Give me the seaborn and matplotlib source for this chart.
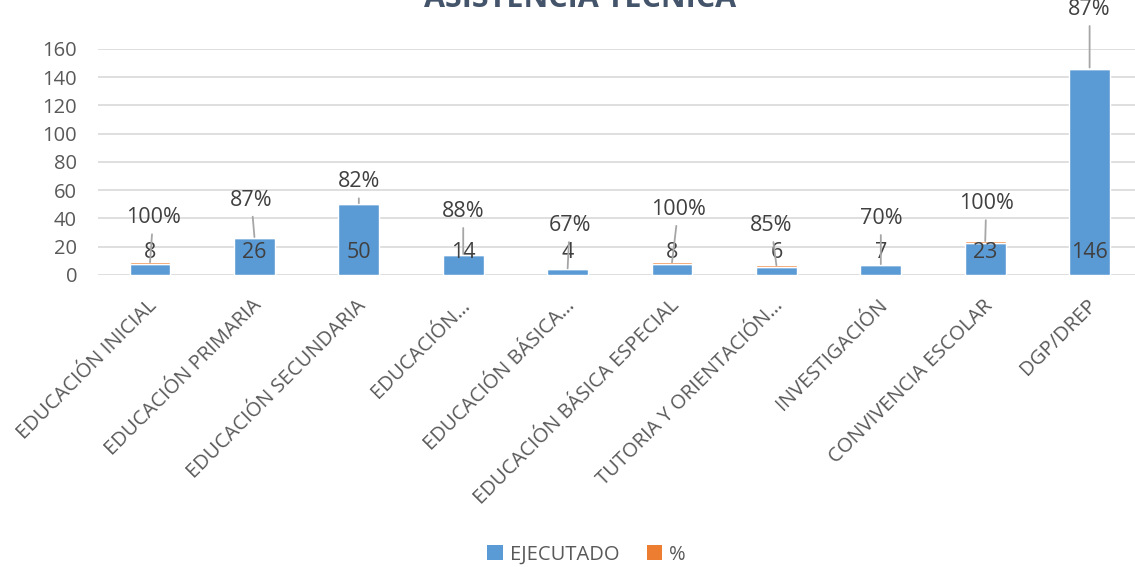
import matplotlib
matplotlib.use("Agg")
import matplotlib.pyplot as plt
import matplotlib.transforms as mtransforms
from matplotlib.patches import Patch
import seaborn as sns
import pandas as pd

# Data
categorias = [
    "EDUCACIÓN INICIAL", "EDUCACIÓN PRIMARIA", "EDUCACIÓN SECUNDARIA",
    "EDUCACIÓN…", "EDUCACIÓN BÁSICA…", "EDUCACIÓN BÁSICA ESPECIAL",
    "TUTORIA Y ORIENTACIÓN…", "INVESTIGACIÓN", "CONVIVENCIA ESCOLAR", "DGP/DREP",
]
ejecutado = [8, 26, 50, 14, 4, 8, 6, 7, 23, 146]
porcentaje = [1.00, 0.87, 0.82, 0.88, 0.67, 1.00, 0.85, 0.70, 1.00, 0.87]

# Placement of the percentage labels (data units), with leader lines to the bars
pct_label_dx = [0.03, -0.03, 0.0, 0.0, 0.02, 0.06, -0.05, 0.0, 0.01, 0.0]
pct_label_y = [40.5, 53, 66, 45, 35, 46.5, 35, 40, 50.5, 188]

BLUE = "#5B9BD5"
ORANGE = "#ED7D31"
TEXT = "#595959"
GRID = "#D9D9D9"

sns.set_theme(style="white")
plt.rcParams["font.family"] = ["Open Sans", "DejaVu Sans"]

df = pd.DataFrame({"cat": categorias, "ejecutado": ejecutado, "pct": porcentaje})

fig = plt.figure(figsize=(11.35, 5.67), dpi=100)
ax = fig.add_axes([0.0862, 0.515, 0.9198, 0.3986])

sns.barplot(data=df, x="cat", y="ejecutado", color=BLUE, width=0.39,
            saturation=1, ax=ax, zorder=2)
sns.barplot(data=df, x="cat", y="pct", color=ORANGE, width=0.39,
            saturation=1, ax=ax, bottom=df["ejecutado"], zorder=2)

ax.set_ylim(0, 160)
ax.set_xlim(-0.5, len(categorias) - 0.5)
ax.set_yticks(range(0, 161, 20))
ax.yaxis.grid(True, color=GRID, linewidth=1.2, zorder=0)
ax.set_axisbelow(True)
for s in ax.spines.values():
    s.set_visible(False)
ax.set_xlabel("")
ax.set_ylabel("")
ax.tick_params(axis="y", length=0, pad=15, labelsize=14.5, labelcolor=TEXT)
ax.tick_params(axis="x", length=0, pad=20, labelsize=14.5, labelcolor=TEXT)
ax.set_xticks(range(len(categorias)))
ax.set_xticklabels(categorias, rotation=45, ha="right", va="center",
                   rotation_mode="anchor")
shift = mtransforms.ScaledTranslation(3 / 72, 0, fig.dpi_scale_trans)
for lbl in ax.get_xticklabels():
    lbl.set_transform(lbl.get_transform() + shift)

# Value labels at the inside base of the bars
for i, v in enumerate(ejecutado):
    ax.annotate(f"{v}", xy=(i, 0), xytext=(0, 12), textcoords="offset points",
                ha="center", va="baseline", fontsize=15.5, color="#404040", zorder=4)

# Percentage labels above the bars, with leader lines
for i, (v, p) in enumerate(zip(ejecutado, porcentaje)):
    top = v + p
    ly = pct_label_y[i]
    lx = i + pct_label_dx[i]
    arrow = None
    if ly - top > 14:
        arrow = dict(arrowstyle="-", color="#A6A6A6", linewidth=1.3,
                     shrinkA=2, shrinkB=0)
    ax.annotate(f"{p:.0%}", xy=(i, top), xytext=(lx, ly), textcoords="data",
                ha="center", va="center", fontsize=15.5, color="#404040",
                arrowprops=arrow, annotation_clip=False, zorder=4)

fig.text(0.511, 0.988, "ASISTENCIA TÉCNICA", ha="center", va="baseline",
         fontsize=22, fontweight="bold", color="#44546A")

handles = [Patch(facecolor=BLUE, edgecolor="none", label="EJECUTADO"),
           Patch(facecolor=ORANGE, edgecolor="none", label="%")]
fig.legend(handles=handles, loc="center", bbox_to_anchor=(0.517, 0.022),
           ncol=2, frameon=False, fontsize=14.5, labelcolor=TEXT,
           handlelength=0.75, handleheight=0.75, handletextpad=0.35,
           columnspacing=1.4)

fig.savefig("out.png", dpi=100)
